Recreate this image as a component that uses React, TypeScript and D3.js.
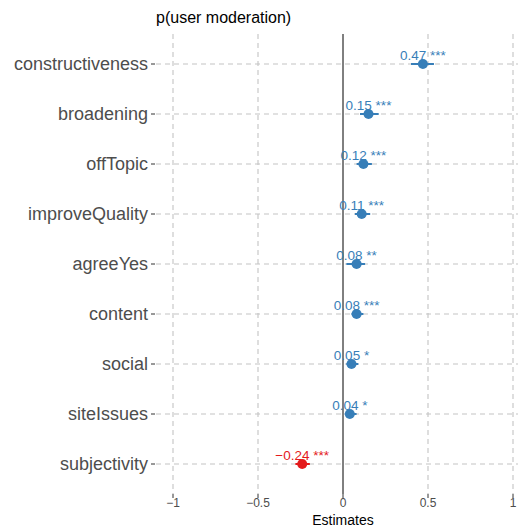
import React from "react";
import * as d3 from "d3";

const terms = [
  "constructiveness",
  "broadening",
  "offTopic",
  "improveQuality",
  "agreeYes",
  "content",
  "social",
  "siteIssues",
  "subjectivity",
];
const estimates = [0.47, 0.15, 0.12, 0.11, 0.08, 0.08, 0.05, 0.04, -0.24];
const ciLow = [0.40, 0.10, 0.08, 0.07, 0.02, 0.05, 0.02, 0.01, -0.28];
const ciHigh = [0.535, 0.21, 0.17, 0.16, 0.13, 0.12, 0.09, 0.08, -0.195];
const stars = ["***", "***", "***", "***", "**", "***", "*", "*", "***"];
const xTicks = [-1, -0.5, 0, 0.5, 1];

const W = 518;
const H = 529;
const panel = { left: 156, right: 530, top: 34, bottom: 494 };
const BLUE = "#377EB8";
const RED = "#E41A1C";
const GRID = "#c4c4c4";
const FONT = "'Liberation Sans', Arial, Helvetica, sans-serif";

function fmt(v: number) {
  return v.toFixed(2).replace("-", "\u2212");
}
function tickFmt(v: number) {
  return String(v).replace("-", "\u2212");
}

export default function App() {
  const x = d3.scaleLinear().domain([-1.1, 1.1]).range([panel.left, panel.right]);
  const y = d3
    .scalePoint<string>()
    .domain(terms)
    .range([panel.top, panel.bottom])
    .padding(0.6);

  return (
    <svg
      width={W}
      height={H}
      style={{ position: "absolute", left: 0, top: 0 }}
      fontFamily={FONT}
    >
      <rect width={W} height={H} fill="#fff" />
      <defs>
        <clipPath id="panel">
          <rect x={panel.left} y={panel.top} width={panel.right - panel.left} height={panel.bottom - panel.top} />
        </clipPath>
      </defs>
      <g clipPath="url(#panel)">
        {xTicks
          .filter((t) => t !== 0)
          .map((t) => (
            <line
              key={"vx" + t}
              x1={x(t)}
              x2={x(t)}
              y1={panel.top}
              y2={panel.bottom}
              stroke={GRID}
              strokeWidth={1.1}
              strokeDasharray="5,4"
            />
          ))}
        {terms.map((t) => (
          <line
            key={"hy" + t}
            x1={panel.left}
            x2={panel.right}
            y1={y(t)}
            y2={y(t)}
            stroke={GRID}
            strokeWidth={1.1}
            strokeDasharray="5,4"
          />
        ))}
        <line x1={x(0)} x2={x(0)} y1={panel.top} y2={panel.bottom} stroke="#000" strokeWidth={1} />
      </g>

      {/* y axis */}
      {terms.map((t) => (
        <g key={"yl" + t}>
          <line x1={panel.left - 5} x2={panel.left - 1} y1={y(t)} y2={y(t)} stroke="#333" strokeWidth={1} />
          <text
            x={panel.left - 8}
            y={y(t)}
            textAnchor="end"
            dominantBaseline="central"
            fontSize={18}
            fill="#4d4d4d"
          >
            {t}
          </text>
        </g>
      ))}

      {/* x axis */}
      {xTicks.map((t) => (
        <g key={"xt" + t}>
          <line x1={x(t)} x2={x(t)} y1={panel.bottom} y2={panel.bottom + 4} stroke="#333" strokeWidth={1} />
          <text x={x(t)} y={panel.bottom + 13} textAnchor="middle" fontSize={12} fill="#4d4d4d">
            {tickFmt(t)}
          </text>
        </g>
      ))}
      <text x={x(0)} y={panel.bottom + 31} textAnchor="middle" fontSize={14} fill="#000">
        Estimates
      </text>

      <text x={panel.left} y={23} fontSize={16} fill="#000">
        p(user moderation)
      </text>

      {/* estimates with confidence intervals */}
      {terms.map((t, i) => {
        const c = estimates[i] < 0 ? RED : BLUE;
        const cy = y(t)!;
        return (
          <g key={"pt" + t}>
            <line x1={x(ciLow[i])} x2={x(ciHigh[i])} y1={cy} y2={cy} stroke={c} strokeWidth={2} />
            <circle cx={x(estimates[i])} cy={cy} r={5} fill={c} />
            <text x={x(estimates[i])} y={cy - 4} textAnchor="middle" fontSize={13.5} fill={c}>
              {fmt(estimates[i]) + " " + stars[i]}
            </text>
          </g>
        );
      })}
    </svg>
  );
}
